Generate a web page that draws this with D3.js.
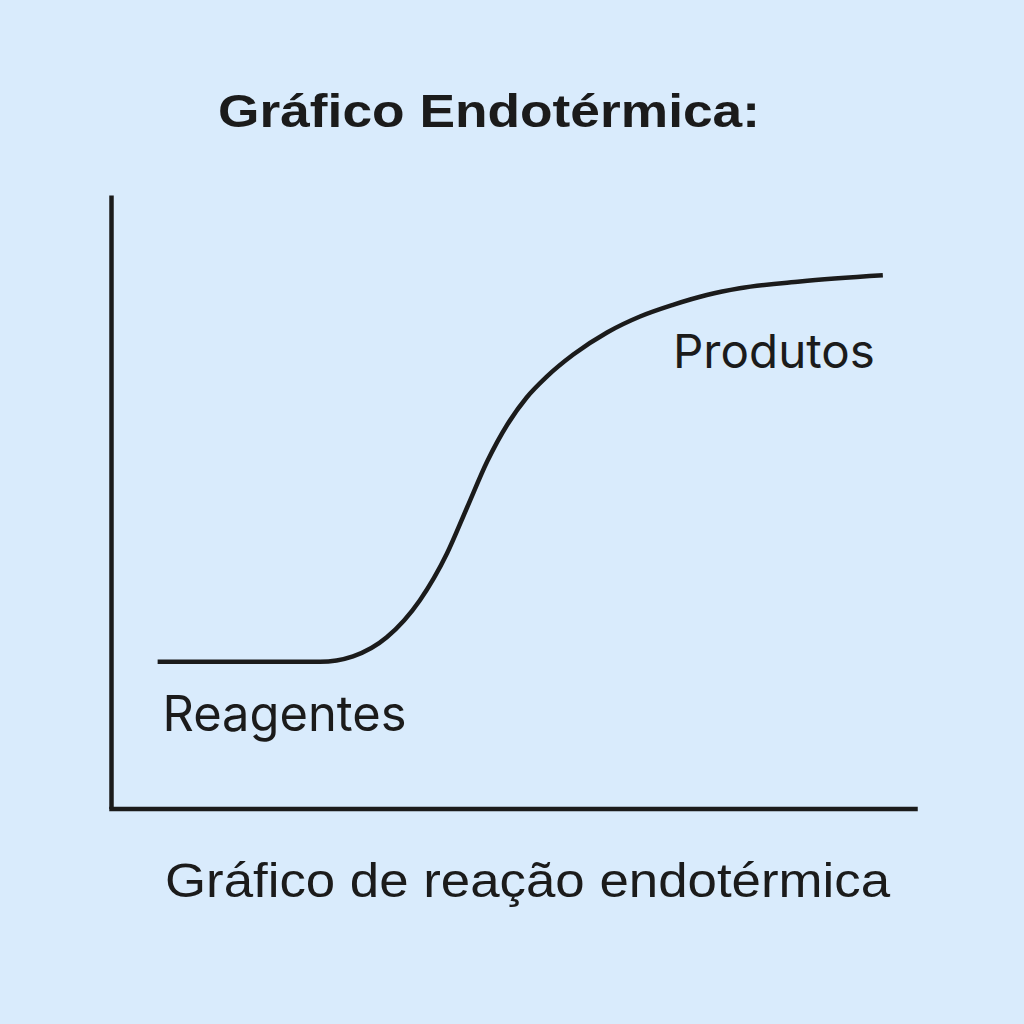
<!DOCTYPE html>
<html>
<head>
<meta charset="utf-8">
<script src="https://cdn.jsdelivr.net/npm/d3@7"></script>
<style>
  html, body { margin: 0; padding: 0; background: #d9ebfc; }
  svg { display: block; }
</style>
</head>
<body>
<script>
// Reaction coordinate (0-100) and energy (0-100)
const reactionCoord = [5.8, 16.0, 26.0, 30.1, 34.3, 38.4, 41.8, 44.3, 46.8, 49.3, 51.7, 54.2, 57.5, 61.7, 65.8, 69.9, 74.1, 78.2, 85.7, 96.0];
const energy        = [23.9, 23.9, 23.9, 24.8, 27.9, 33.9, 41.6, 49.1, 56.6, 62.6, 67.0, 70.4, 74.0, 77.6, 80.2, 82.1, 83.7, 84.8, 85.9, 86.9];

const titleText = "Gráfico Endotérmica:";
const xAxisLabel = "Gráfico de reação endotérmica";
const stateLabels = ["Reagentes", "Produtos"];
const stateLabelX = [6.4, 69.9];
const stateLabelY = [12.7, 71.8];

const W = 1024, H = 1024;
const ink = "#1b1b1b";

const svg = d3.select("body").append("svg")
  .attr("width", W).attr("height", H);

svg.append("rect").attr("width", W).attr("height", H).attr("fill", "#d9ebfc");

const x = d3.scaleLinear().domain([0, 100]).range([111, 915]);
const y = d3.scaleLinear().domain([0, 100]).range([808.5, 195]);

// Axes (no ticks)
const xAxis = d3.axisBottom(x).tickValues([]).tickSizeOuter(0);
const yAxis = d3.axisLeft(y).tickValues([]).tickSizeOuter(0);

svg.append("g").attr("transform", `translate(0,${y(0)})`).call(xAxis)
  .select(".domain").attr("stroke", ink).attr("stroke-width", 4.5).attr("stroke-linecap", "square");
svg.append("g").attr("transform", `translate(${x(0)},0)`).call(yAxis)
  .select(".domain").attr("stroke", ink).attr("stroke-width", 4.5);

// Curve
const pts = reactionCoord.map((v, i) => [v, energy[i]]);
const line = d3.line().x(d => x(d[0])).y(d => y(d[1])).curve(d3.curveMonotoneX);
svg.append("path").datum(pts)
  .attr("d", line)
  .attr("fill", "none")
  .attr("stroke", ink)
  .attr("stroke-width", 4.5)
  .attr("stroke-linecap", "butt");

// Title
svg.append("text")
  .attr("x", 218).attr("y", 127)
  .attr("font-family", "'Liberation Sans', Arial, sans-serif")
  .attr("font-weight", "bold")
  .attr("font-size", 46)
  .attr("fill", ink)
  .attr("textLength", 542).attr("lengthAdjust", "spacingAndGlyphs")
  .text(titleText);

// State labels
const labelWidths = [244, 202];
const labelSizes = [49, 47];
stateLabels.forEach((t, i) => {
  svg.append("text")
    .attr("x", x(stateLabelX[i])).attr("y", y(stateLabelY[i]))
    .attr("font-family", "Inter, 'Noto Sans', sans-serif")
    .attr("font-size", labelSizes[i])
    .attr("fill", ink)
    .attr("textLength", labelWidths[i]).attr("lengthAdjust", "spacingAndGlyphs")
    .text(t);
});

// X-axis label
svg.append("text")
  .attr("x", 165).attr("y", 897)
  .attr("font-family", "'Liberation Sans', Arial, sans-serif")
  .attr("font-size", 48)
  .attr("fill", ink)
  .attr("textLength", 725).attr("lengthAdjust", "spacingAndGlyphs")
  .text(xAxisLabel);
</script>
</body>
</html>
